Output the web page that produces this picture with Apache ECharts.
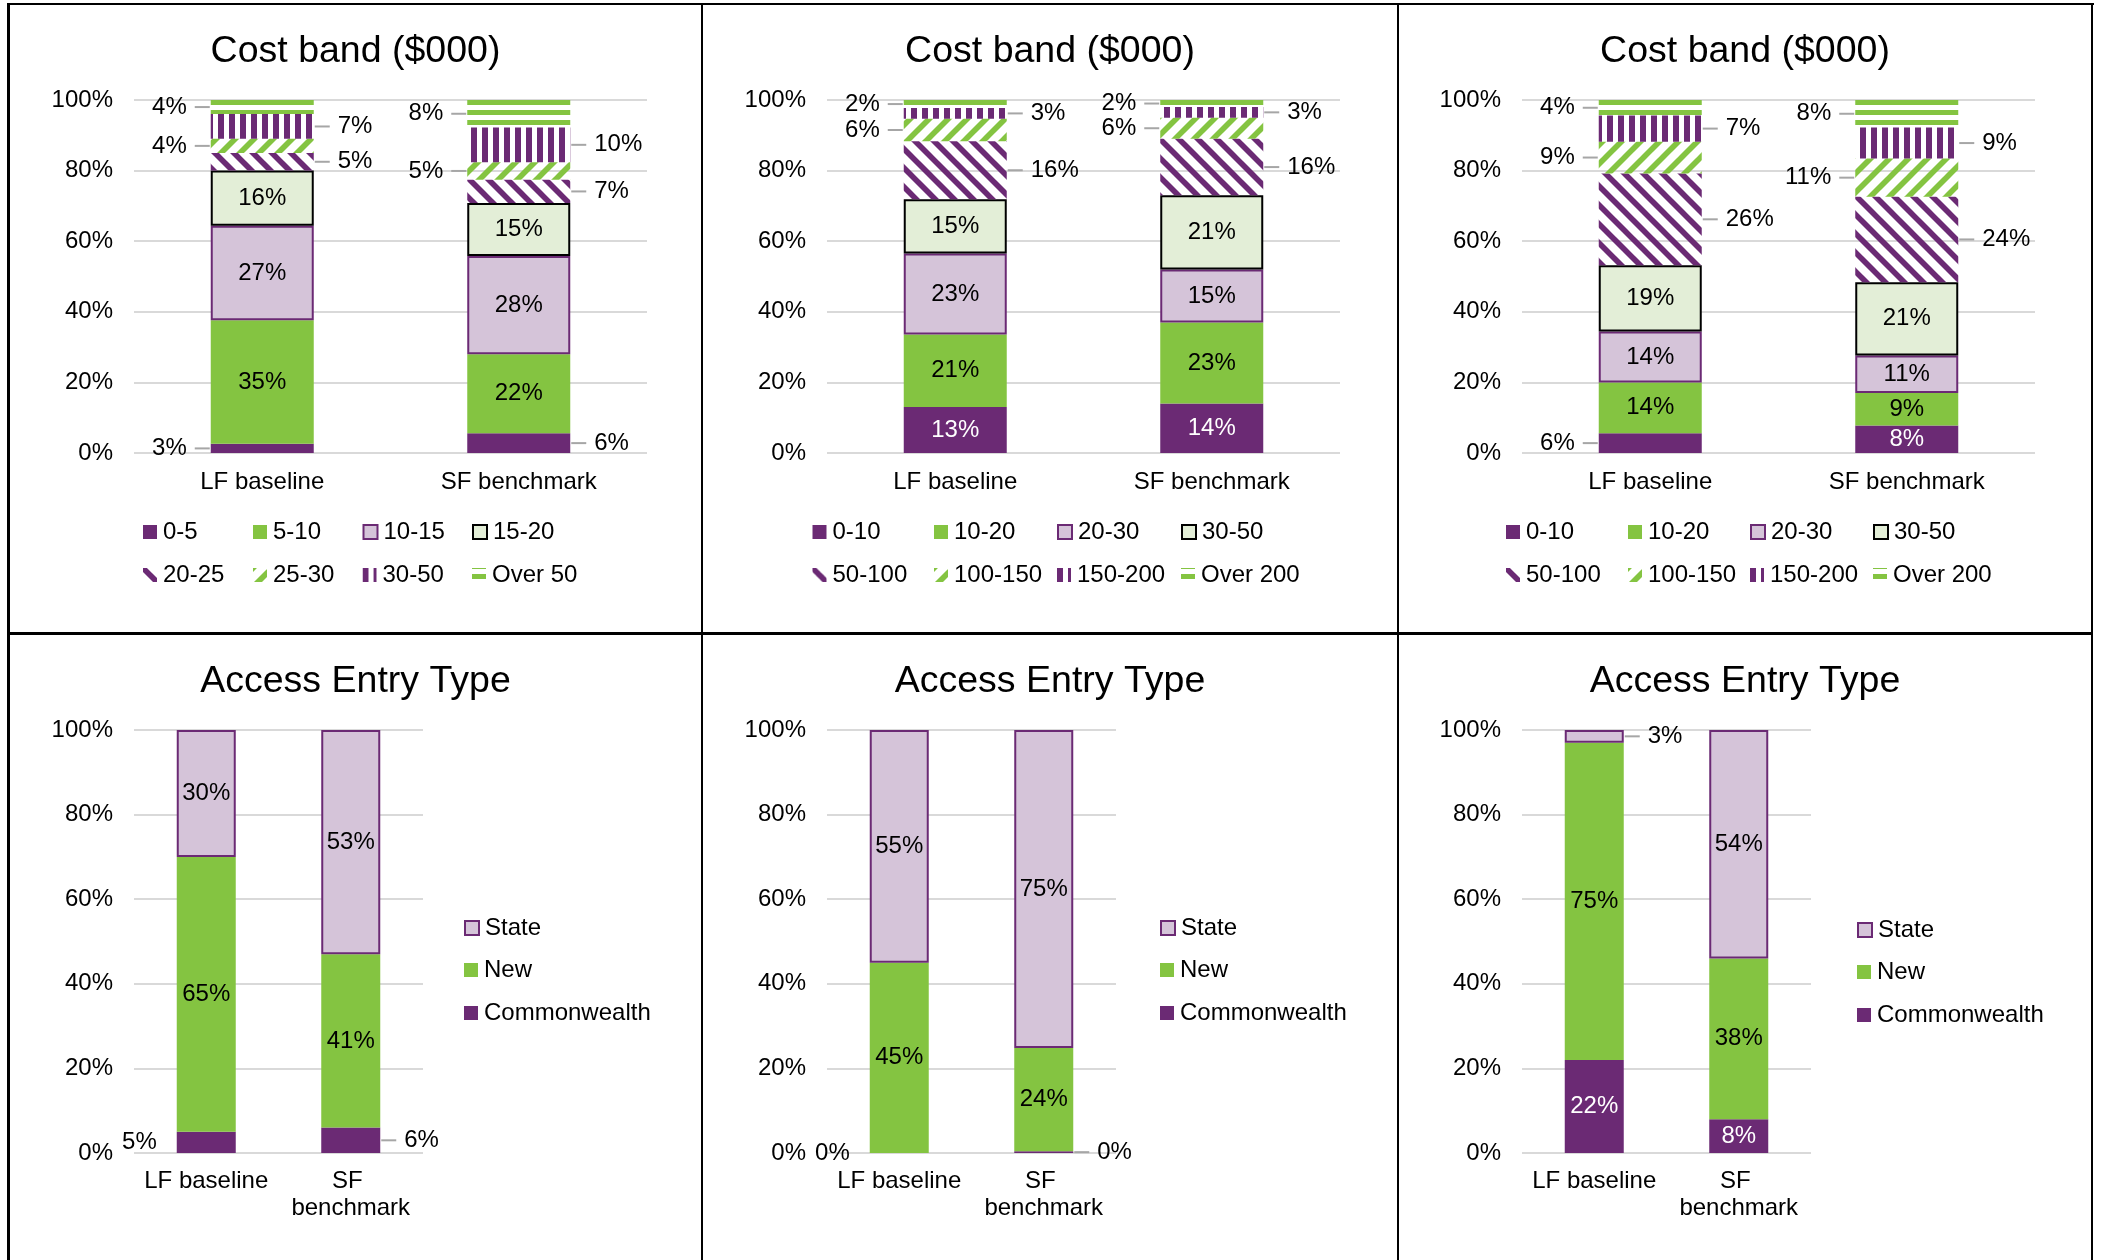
<!DOCTYPE html>
<html>
<head>
<meta charset="utf-8">
<script src="https://cdn.jsdelivr.net/npm/echarts@6/dist/echarts.min.js"></script>
<style>
  html, body { margin: 0; padding: 0; background: #fff; width: 2101px; height: 1260px; overflow: hidden; }
  .panel { position: absolute; }
  .rule { position: absolute; background: #000; z-index: 10; }
</style>
</head>
<body>
<div id="p0" class="panel" style="left:9px;top:4px;width:693px;height:630px"></div>
<div id="p1" class="panel" style="left:702px;top:4px;width:696px;height:630px"></div>
<div id="p2" class="panel" style="left:1398px;top:4px;width:694px;height:630px"></div>
<div id="p3" class="panel" style="left:9px;top:634px;width:693px;height:626px"></div>
<div id="p4" class="panel" style="left:702px;top:634px;width:696px;height:626px"></div>
<div id="p5" class="panel" style="left:1398px;top:634px;width:694px;height:626px"></div>

<div class="rule" style="left:7px;top:3px;width:2087px;height:2px"></div>
<div class="rule" style="left:7px;top:3px;width:3px;height:1257px"></div>
<div class="rule" style="left:2091px;top:3px;width:2px;height:1257px"></div>
<div class="rule" style="left:7px;top:632px;width:2086px;height:3px"></div>
<div class="rule" style="left:701px;top:3px;width:2px;height:1257px"></div>
<div class="rule" style="left:1397px;top:3px;width:2px;height:1257px"></div>

<script>
// ---- data ----
const categories = ['LF baseline', 'SF benchmark'];
const bandsSmall = ['0-5', '5-10', '10-15', '15-20', '20-25', '25-30', '30-50', 'Over 50'];
const bandsLarge = ['0-10', '10-20', '20-30', '30-50', '50-100', '100-150', '150-200', 'Over 200'];
const entryTypes = ['Commonwealth', 'New', 'State'];

// share of projects by cost band ($000), % per band
const costA_lf = [2.6, 35, 26.8, 15.6, 5, 4, 7, 4];
const costA_sf = [5.6, 22.4, 27.8, 15, 6.6, 5, 9.8, 7.8];
const costB_lf = [13, 20.6, 22.9, 15.4, 16.4, 6.4, 3.0, 2.3];
const costB_sf = [14, 23, 15, 21, 16, 6, 3, 2];
const costC_lf = [5.6, 14.4, 14.4, 18.8, 26, 9, 7.4, 4.4];
const costC_sf = [7.8, 9.2, 10.6, 20.8, 24.2, 10.8, 8.8, 7.8];

// share of projects by access entry type, % (Commonwealth, New, State)
const entryD_lf = [5, 65, 30];
const entryD_sf = [6, 41, 53];
const entryE_lf = [0, 45, 55];
const entryE_sf = [0.4, 24.4, 75.2];
const entryF_lf = [22, 75, 3];
const entryF_sf = [8, 38, 54];

// where each value label sits: inside the segment, or a callout to the
// left / right (upper case = with leader line, lower case = without)
const sideA_lf = ['L', 'in', 'in', 'in', 'R', 'L', 'R', 'L'];
const sideA_sf = ['R', 'in', 'in', 'in', 'R', 'L', 'R', 'L'];
const sideB_lf = ['in', 'in', 'in', 'in', 'R', 'L', 'R', 'L'];
const sideB_sf = ['in', 'in', 'in', 'in', 'R', 'L', 'R', 'L'];
const sideC_lf = ['L', 'in', 'in', 'in', 'R', 'L', 'R', 'L'];
const sideC_sf = ['in', 'in', 'in', 'in', 'R', 'L', 'R', 'L'];
const sideD_lf = ['l', 'in', 'in'];
const sideD_sf = ['R', 'in', 'in'];
const sideE_lf = ['l', 'in', 'in'];
const sideE_sf = ['R', 'in', 'in'];
const sideF_lf = ['in', 'in', 'R'];
const sideF_sf = ['in', 'in', 'in'];

// ---- styling ----
const FONT = '"Liberation Sans", Arial, sans-serif';
const PURPLE = '#6B2A74';
const GREEN = '#84C441';
const LILAC = '#D5C4D9';
const PALEGREEN = '#E3EED7';
const GRIDLINE = '#D9D9D9';
const LEADER = '#A6A6A6';

function makePattern(kind, color) {
  const c = document.createElement('canvas');
  let g;
  if (kind === 'down' || kind === 'up') {
    const t = 19;
    c.width = t; c.height = t;
    g = c.getContext('2d');
    g.strokeStyle = color;
    g.lineWidth = 5.6;
    for (let k = -1; k <= 2; k++) {
      g.beginPath();
      if (kind === 'down') { g.moveTo(k * t - 6, -6); g.lineTo(k * t + t + 6, t + 6); }
      else { g.moveTo(k * t + 6, -6); g.lineTo(k * t - t - 6, t + 6); }
      g.stroke();
    }
  } else if (kind === 'vert') {
    c.width = 11; c.height = 11;
    g = c.getContext('2d');
    g.fillStyle = color;
    g.fillRect(0, 0, 6, 11);
  } else {
    // horizontal stripes, phased so a stripe starts at the plot top
    c.width = 10; c.height = 10;
    g = c.getContext('2d');
    g.fillStyle = color;
    g.fillRect(0, 6, 10, 4);
    g.fillRect(0, 0, 10, 1);
  }
  return { image: c, repeat: 'repeat' };
}

function costStyles() {
  return [
    { color: PURPLE },
    { color: GREEN },
    { color: LILAC, borderColor: PURPLE, borderWidth: 2 },
    { color: PALEGREEN, borderColor: '#000', borderWidth: 2 },
    { color: makePattern('down', PURPLE) },
    { color: makePattern('up', GREEN) },
    { color: makePattern('vert', PURPLE) },
    { color: makePattern('horiz', GREEN) }
  ];
}
function entryStyles() {
  return [
    { color: PURPLE },
    { color: GREEN },
    { color: LILAC, borderColor: PURPLE, borderWidth: 2 }
  ];
}

const pct = v => Math.round(v) + '%';

function buildPanel(id, cfg) {
  const chart = echarts.init(document.getElementById(id), null, { renderer: 'canvas' });
  const vals = cfg.values;
  const sides = cfg.sides;

  const series = cfg.names.map((name, i) => {
    const darkFill = cfg.styles[i].color === PURPLE;
    return {
      name,
      type: 'bar',
      stack: 'total',
      barWidth: cfg.barWidth,
      itemStyle: cfg.styles[i],
      emphasis: { disabled: true },
      data: [0, 1].map(c => ({
        value: vals[c][i],
        label: {
          show: sides[c][i] === 'in',
          position: 'inside',
          formatter: p => pct(p.value),
          fontSize: 24,
          fontFamily: FONT,
          color: darkFill ? '#fff' : '#000',
          textBorderWidth: 0
        }
      }))
    };
  });

  // callout labels beside the bars
  const callouts = [];
  [0, 1].forEach(c => {
    let cum = 0;
    vals[c].forEach((v, i) => {
      const s = sides[c][i];
      const mid = cum + v / 2;
      cum += v;
      if (s !== 'in') {
        callouts.push({
          cat: c, mid, text: pct(v),
          dir: (s === 'L' || s === 'l') ? -1 : 1,
          line: s === 'L' || s === 'R'
        });
      }
    });
  });
  const halfBar = cfg.barWidth / 2;
  series.push({
    type: 'custom',
    name: '_callouts',
    silent: true,
    clip: false,
    encode: { x: 0, y: 1 },
    data: callouts.map(o => [o.cat, o.mid]),
    renderItem: (params, api) => {
      const o = callouts[params.dataIndex];
      const p = api.coord([o.cat, o.mid]);
      const edge = p[0] + o.dir * halfBar;
      const children = [];
      if (o.line) {
        children.push({
          type: 'line',
          shape: { x1: edge + o.dir * 1, y1: p[1], x2: edge + o.dir * 16, y2: p[1] },
          style: { stroke: LEADER, lineWidth: 2 }
        });
      }
      children.push({
        type: 'text',
        x: edge + o.dir * (o.line ? 24 : 20),
        y: p[1],
        style: {
          text: o.text,
          fill: '#000',
          fontSize: 24,
          fontFamily: FONT,
          align: o.dir < 0 ? 'right' : 'left',
          verticalAlign: 'middle'
        }
      });
      return { type: 'group', children };
    }
  });

  const legends = cfg.legendOrder.map((idx, k) => ({
    data: [cfg.names[idx]],
    left: cfg.legendX[k],
    top: cfg.legendY[k],
    padding: 0,
    itemGap: 0,
    itemWidth: 14,
    itemHeight: 14,
    icon: 'rect',
    selectedMode: false,
    textStyle: { fontSize: 24, lineHeight: 26, color: '#000', fontFamily: FONT, padding: [0, 0, 0, 1] }
  }));

  chart.setOption({
    animation: false,
    textStyle: { fontFamily: FONT },
    title: {
      text: cfg.title,
      left: 'center',
      top: 29,
      padding: 0,
      textStyle: { fontSize: 37.5, fontWeight: 'normal', color: '#000', lineHeight: 37, fontFamily: FONT }
    },
    legend: legends,
    grid: cfg.grid,
    xAxis: {
      type: 'category',
      data: categories,
      axisLine: { show: false },
      axisTick: { show: false },
      axisLabel: {
        interval: 0,
        fontSize: 24,
        color: '#000',
        fontFamily: FONT,
        margin: cfg.catMargin,
        lineHeight: cfg.catLineHeight,
        width: cfg.catWidth,
        overflow: 'break'
      }
    },
    yAxis: {
      type: 'value',
      min: 0,
      max: 100,
      interval: 20,
      axisLine: { show: false },
      axisTick: { show: false },
      axisLabel: { formatter: '{value}%', fontSize: 24, color: '#000', fontFamily: FONT, margin: 21 },
      splitLine: { lineStyle: { color: GRIDLINE, width: 2 } }
    },
    series
  });
}

// ---- top row: cost band ----
const topGrid = left => ({ left, top: 96, width: 513, height: 353 });
const topLegendY = [515, 515, 515, 515, 558, 558, 558, 558];
const topOrder = [0, 1, 2, 3, 4, 5, 6, 7];
const cols = xs => xs.concat(xs);

buildPanel('p0', {
  title: 'Cost band ($000)', names: bandsSmall, styles: costStyles(),
  values: [costA_lf, costA_sf], sides: [sideA_lf, sideA_sf],
  grid: topGrid(125), barWidth: 103, catMargin: 17, catLineHeight: 24, catWidth: 250,
  legendOrder: topOrder, legendX: cols([134, 244, 353.5, 463]), legendY: topLegendY
});
buildPanel('p1', {
  title: 'Cost band ($000)', names: bandsLarge, styles: costStyles(),
  values: [costB_lf, costB_sf], sides: [sideB_lf, sideB_sf],
  grid: topGrid(125), barWidth: 103, catMargin: 17, catLineHeight: 24, catWidth: 250,
  legendOrder: topOrder, legendX: cols([110.5, 232, 355, 479]), legendY: topLegendY
});
buildPanel('p2', {
  title: 'Cost band ($000)', names: bandsLarge, styles: costStyles(),
  values: [costC_lf, costC_sf], sides: [sideC_lf, sideC_sf],
  grid: topGrid(124), barWidth: 103, catMargin: 17, catLineHeight: 24, catWidth: 250,
  legendOrder: topOrder, legendX: cols([108, 230, 352, 475]), legendY: topLegendY
});

// ---- bottom row: access entry type ----
const bottomGrid = left => ({ left, top: 96, width: 289, height: 423 });
const bottomOrder = [2, 1, 0];

buildPanel('p3', {
  title: 'Access Entry Type', names: entryTypes, styles: entryStyles(),
  values: [entryD_lf, entryD_sf], sides: [sideD_lf, sideD_sf],
  grid: bottomGrid(125), barWidth: 59, catMargin: 15, catLineHeight: 27, catWidth: 140,
  legendOrder: bottomOrder, legendX: [455, 455, 455], legendY: [281, 323, 366]
});
buildPanel('p4', {
  title: 'Access Entry Type', names: entryTypes, styles: entryStyles(),
  values: [entryE_lf, entryE_sf], sides: [sideE_lf, sideE_sf],
  grid: bottomGrid(125), barWidth: 59, catMargin: 15, catLineHeight: 27, catWidth: 140,
  legendOrder: bottomOrder, legendX: [458, 458, 458], legendY: [281, 323, 366]
});
buildPanel('p5', {
  title: 'Access Entry Type', names: entryTypes, styles: entryStyles(),
  values: [entryF_lf, entryF_sf], sides: [sideF_lf, sideF_sf],
  grid: bottomGrid(124), barWidth: 59, catMargin: 15, catLineHeight: 27, catWidth: 140,
  legendOrder: bottomOrder, legendX: [459, 459, 459], legendY: [283, 325, 368]
});
</script>
</body>
</html>
